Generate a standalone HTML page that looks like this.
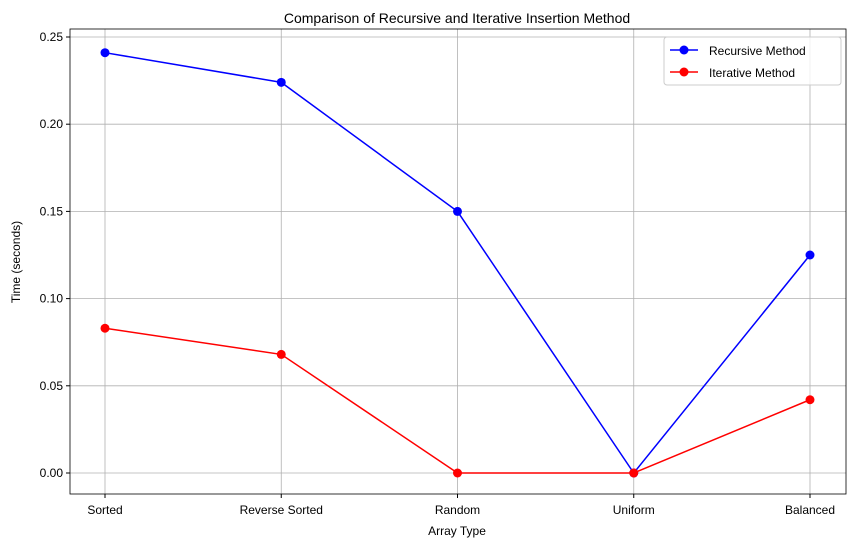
<!DOCTYPE html>
<html><head><meta charset="utf-8"><style>
body{margin:0;background:#fff;}
svg{font-family:"Liberation Sans","DejaVu Sans",sans-serif;}
</style></head><body>
<svg id="chart" width="855" height="547" xmlns="http://www.w3.org/2000/svg">
<rect width="855" height="547" fill="#fff"/>
<text x="457" y="23" text-anchor="middle" font-size="14">Comparison of Recursive and Iterative Insertion Method</text>
<g id="grid"></g>
<g id="axes"></g>
<g id="series"></g>
<text x="457" y="535" text-anchor="middle" font-size="12">Array Type</text>
<text transform="translate(20,262) rotate(-90)" text-anchor="middle" font-size="12">Time (seconds)</text>
<g>
<rect x="664" y="37" width="177" height="48" rx="3" fill="#fff" fill-opacity="0.8" stroke="#ccc"/>
<g>
<line x1="670" y1="50" x2="698" y2="50" stroke="blue" stroke-width="1.5"/><circle cx="684" cy="50" r="4.5" fill="blue"/>
<text x="709" y="55" font-size="12">Recursive Method</text></g>
<g>
<line x1="670" y1="72" x2="698" y2="72" stroke="red" stroke-width="1.5"/><circle cx="684" cy="72" r="4.5" fill="red"/>
<text x="709" y="77" font-size="12">Iterative Method</text></g>
</g>
</svg>
<script>
const categories=["Sorted","Reverse Sorted","Random","Uniform","Balanced"];
const recursiveValues=[0.241,0.224,0.150,0.000,0.125];
const iterativeValues=[0.083,0.068,0.000,0.000,0.042];
const yTicks=[0,0.05,0.10,0.15,0.20,0.25];
const yTickLabels=["0.00","0.05","0.10","0.15","0.20","0.25"];
const NS="http://www.w3.org/2000/svg";
const L=70,R=846,T=29,B=494;
function xs(i){return 105+i*(810-105)/(categories.length-1);}
function ys(v){return 473-v*(473-37)/0.25;}
function mk(tag,attrs,parent){const e=document.createElementNS(NS,tag);for(const k in attrs)e.setAttribute(k,attrs[k]);parent.appendChild(e);return e;}
const grid=document.getElementById('grid'),axes=document.getElementById('axes'),series=document.getElementById('series');
categories.forEach((c,i)=>{
 const g=mk('line',{x1:xs(i),x2:xs(i),y1:T,y2:B,stroke:'#b0b0b0','stroke-width':0.8},grid);
 
 
 mk('line',{x1:xs(i),x2:xs(i),y1:B,y2:B+4,stroke:'#000'},axes);
 const t=mk('text',{x:xs(i),y:B+20,'text-anchor':'middle','font-size':12},axes);t.textContent=c;
 
 
});
yTicks.forEach((v,i)=>{
 const g=mk('line',{x1:L,x2:R,y1:ys(v),y2:ys(v),stroke:'#b0b0b0','stroke-width':0.8},grid);
 
 
 mk('line',{x1:L-4,x2:L,y1:ys(v),y2:ys(v),stroke:'#000'},axes);
 const t=mk('text',{x:L-7,y:ys(v)+4,'text-anchor':'end','font-size':12},axes);t.textContent=yTickLabels[i];
 
 
});
const frame=mk('rect',{x:L,y:T,width:R-L,height:B-T,fill:'none',stroke:'#000','stroke-width':0.8},axes);


function draw(vals,color,name){
 const p=mk('polyline',{points:vals.map((v,i)=>xs(i)+','+ys(v)).join(' '),fill:'none',stroke:color,'stroke-width':1.5},series);
 
 
 vals.forEach((v,i)=>{const c=mk('circle',{cx:xs(i),cy:ys(v),r:4.5,fill:color},series);
 
 });
}
draw(recursiveValues,'blue','recursive');
draw(iterativeValues,'red','iterative');
</script>
</body></html>
